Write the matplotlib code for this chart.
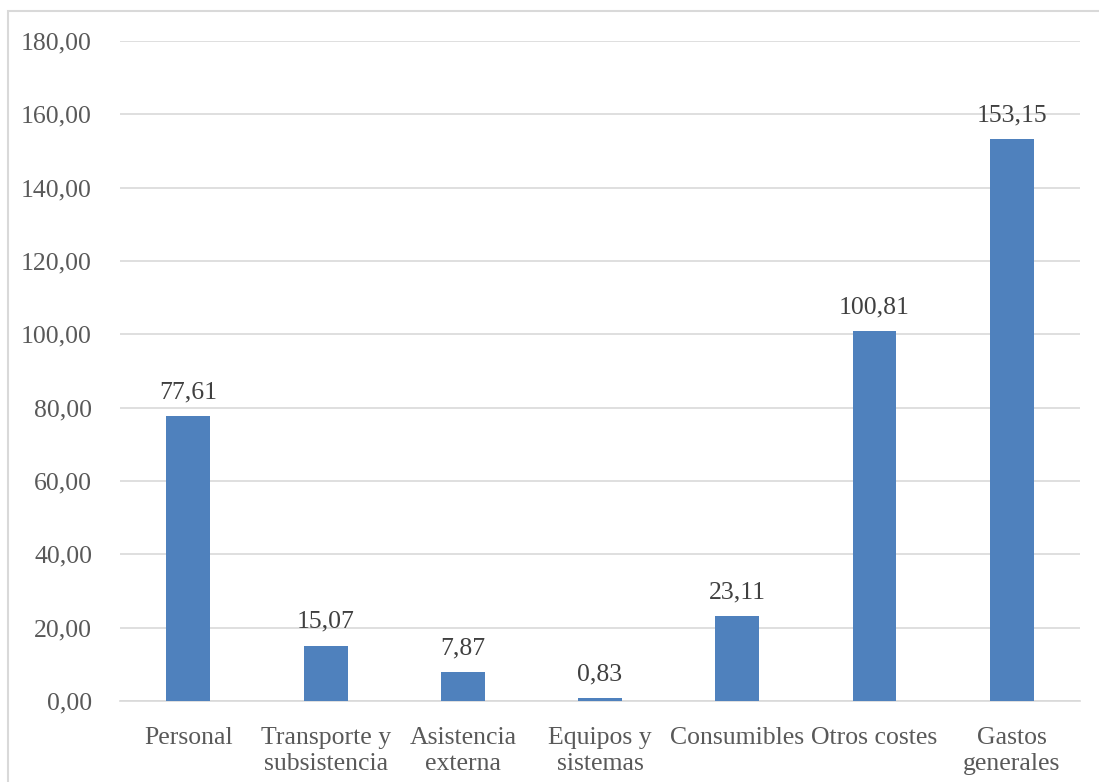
import matplotlib.pyplot as plt
from matplotlib.patches import Rectangle

categorias = ['Personal', 'Transporte y\nsubsistencia', 'Asistencia\nexterna',
              'Equipos y\nsistemas', 'Consumibles', 'Otros costes', 'Gastos\ngenerales']
valores = [77.61, 15.07, 7.87, 0.83, 23.11, 100.81, 153.15]
ticks_y = [0, 20, 40, 60, 80, 100, 120, 140, 160, 180]

plt.rcParams['font.family'] = ['Liberation Serif', 'DejaVu Serif']

fig = plt.figure(figsize=(10.99, 7.82), dpi=100)
ax = fig.add_axes([0.109, 0.1036, 0.874, 0.844])

x = range(len(categorias))
ax.bar(x, valores, width=0.32, color='#4F81BD', zorder=3)

for xi, v in zip(x, valores):
    ax.text(xi, v + 3.5, f'{v:.2f}'.replace('.', ','), ha='center', va='bottom',
            fontsize=18.5, color='#404040')

ax.set_xlim(-0.5, len(categorias) - 0.5)
ax.set_ylim(0, 180)
ax.set_yticks(ticks_y)
ax.set_yticklabels([f'{t:.2f}'.replace('.', ',') for t in ticks_y])
ax.set_xticks(list(x))
ax.set_xticklabels(categorias, linespacing=1.2)
ax.tick_params(axis='both', length=0, labelsize=18.5, colors='#595959')
ax.tick_params(axis='y', pad=20)
ax.tick_params(axis='x', pad=19)
ax.grid(axis='y', color='#D9D9D9', linewidth=1.2, zorder=0)
for s in ['top', 'right', 'left']:
    ax.spines[s].set_visible(False)
ax.spines['bottom'].set_color('#D9D9D9')
ax.spines['bottom'].set_linewidth(1.2)

fig.patches.append(Rectangle((8 / 1099, -0.01), 1.0, 1 - 11 / 782 + 0.01,
                             transform=fig.transFigure, fill=False,
                             edgecolor='#D9D9D9', linewidth=1.5))

fig.savefig('out.png', dpi=100)
